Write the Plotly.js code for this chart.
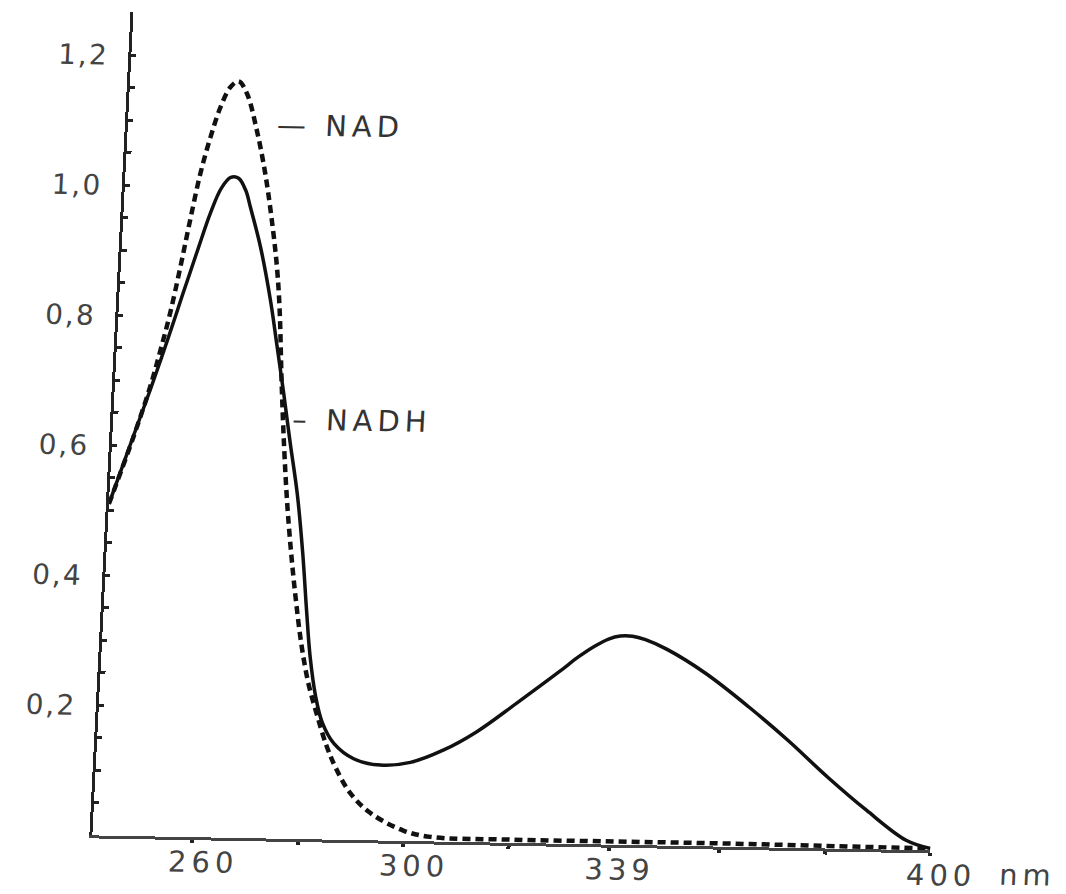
<!DOCTYPE html>
<html>
<head>
<meta charset="utf-8">
<script src="https://cdn.plot.ly/plotly-3.0.1.min.js"></script>
<style>
  html, body { margin: 0; padding: 0; background: #ffffff; overflow: hidden; width: 1066px; height: 894px; }
  #plot { width: 1130px; height: 894px; transform-origin: 0 0;
          transform: matrix(1, 0.01789, -0.05, 1, 0, 0); }
</style>
</head>
<body>
<div id="plot"></div>
<script>
// Wavelength (nm) and absorbance
const nadhWavelength = [241, 245, 248, 250.5, 253, 255.5, 257.5, 259.3, 261, 262.5, 264, 265, 267.3, 269.7, 271.4,
  273.1, 274.8, 276.6, 278.2, 279.5, 280.6, 282.0, 283.5, 285.9, 289.8, 294.9, 300.6, 306.8, 312.9,
  320.2, 327.9, 331.5, 334.5, 337, 339.2, 341.5, 344, 348.1, 355.7, 364.3, 372, 379.8, 387.5, 395.3, 400];
const nadhAbsorbance = [0.51, 0.615, 0.693, 0.762, 0.834, 0.905, 0.960, 0.998, 1.015, 1.014, 0.995, 0.97, 0.909, 0.827, 0.756,
  0.684, 0.608, 0.531, 0.44, 0.35, 0.28, 0.22, 0.18, 0.148, 0.125, 0.116, 0.121, 0.141, 0.170,
  0.215, 0.264, 0.288, 0.305, 0.316, 0.321, 0.321, 0.316, 0.302, 0.266, 0.215, 0.165, 0.110, 0.060, 0.015, 0.003];

const nadWavelength = [241, 245, 247.7, 249.3, 250.8, 252.3, 253.7, 255.2, 256.8, 258.4, 260.1, 261.6, 263.3,
  265.5, 267.5, 269.2, 270.6, 271.5, 272.6, 273.7, 274.8, 276, 277.3, 278.8, 280.5, 282.5, 284.5,
  286.4, 289.5, 293.5, 299.9, 305.1, 320, 340, 360, 380, 400];
const nadAbsorbance = [0.51, 0.613, 0.691, 0.747, 0.805, 0.876, 0.948, 1.02, 1.077, 1.123, 1.154, 1.163, 1.144,
  1.088, 1.022, 0.95, 0.879, 0.815, 0.70, 0.60, 0.515, 0.44, 0.37, 0.30, 0.24, 0.19, 0.145,
  0.112, 0.072, 0.042, 0.016, 0.007, 0.005, 0.005, 0.005, 0.004, 0.003];

const xTickVals = [260, 280, 300, 320, 339, 360, 380, 400];
const xTickText = ['260', '', '300', '', '339', '', '', '400'];
const yTickVals = [0.2, 0.4, 0.6, 0.8, 1.0, 1.2];
const yTickText = ['0,2', '0,4', '0,6', '0,8', '1,0', '1,2'];
const yMinorTicks = [0.05, 0.1, 0.15, 0.25, 0.3, 0.35, 0.45, 0.5, 0.55, 0.65, 0.7, 0.75,
  0.85, 0.9, 0.95, 1.05, 1.1, 1.15];

const seriesLabels = ['— NAD', '– NADH'];
const labelX = [268.9, 274.5];
const labelY = [1.097, 0.645];
const unitLabel = 'nm';

const FONT = 'DejaVu Sans, sans-serif';

const traces = [
  { x: nadWavelength, y: nadAbsorbance, type: 'scatter', mode: 'lines', name: 'NAD',
    line: { color: '#111111', width: 4.5, dash: '8px,5px', shape: 'spline', smoothing: 1 },
    hoverinfo: 'skip' },
  { x: nadhWavelength, y: nadhAbsorbance, type: 'scatter', mode: 'lines', name: 'NADH',
    line: { color: '#111111', width: 3.5, shape: 'spline', smoothing: 1 },
    hoverinfo: 'skip' }
];

const annotations = seriesLabels.map((t, i) => ({
  x: labelX[i], y: labelY[i], xref: 'x', yref: 'y', text: t, showarrow: false, align: 'left',
  xanchor: 'left', yanchor: 'middle', font: { family: FONT, size: 29, color: '#333333' }
}));
annotations.push({
  x: 400, y: 0, xref: 'x', yref: 'y', text: unitLabel, showarrow: false, align: 'left',
  xanchor: 'left', yanchor: 'top', xshift: 68, yshift: -4,
  font: { family: FONT, size: 29, color: '#444444' }
});

const layout = {
  width: 1130, height: 894,
  margin: { l: 134, r: 158, t: 10, b: 61 },
  paper_bgcolor: '#ffffff', plot_bgcolor: '#ffffff',
  showlegend: false,
  font: { family: FONT, size: 28, color: '#444444' },
  xaxis: {
    range: [241, 400], showgrid: false, zeroline: false,
    showline: true, linecolor: '#444444', linewidth: 3,
    tickvals: xTickVals, ticktext: xTickText,
    ticks: 'outside', ticklen: 3, tickwidth: 4, tickcolor: '#222222',
    ticklabelstandoff: -6, ticklabelshift: 12,
    tickfont: { family: FONT, size: 29, color: '#444444' }
  },
  yaxis: {
    range: [0, 1.266], showgrid: false, zeroline: false,
    showline: true, linecolor: '#222222', linewidth: 3,
    tickvals: yTickVals, ticktext: yTickText,
    ticks: 'inside', ticklen: 5, tickwidth: 3, tickcolor: '#222222',
    minor: { tickmode: 'array', tickvals: yMinorTicks, ticks: 'inside', ticklen: 5, tickwidth: 3, tickcolor: '#222222' },
    ticklabelstandoff: 14,
    tickfont: { family: FONT, size: 28, color: '#444444' }
  },
  annotations: annotations
};

Plotly.newPlot('plot', traces, layout, { staticPlot: true, displayModeBar: false }).then(() => {
  document.querySelectorAll('#plot .xtick text').forEach(t => { t.style.letterSpacing = '5px'; });
  document.querySelectorAll('#plot .ytick text').forEach(t => { t.style.letterSpacing = '2px'; });
  document.querySelectorAll('#plot .annotation-text').forEach(t => { t.style.letterSpacing = '5px'; });
});
</script>
</body>
</html>
